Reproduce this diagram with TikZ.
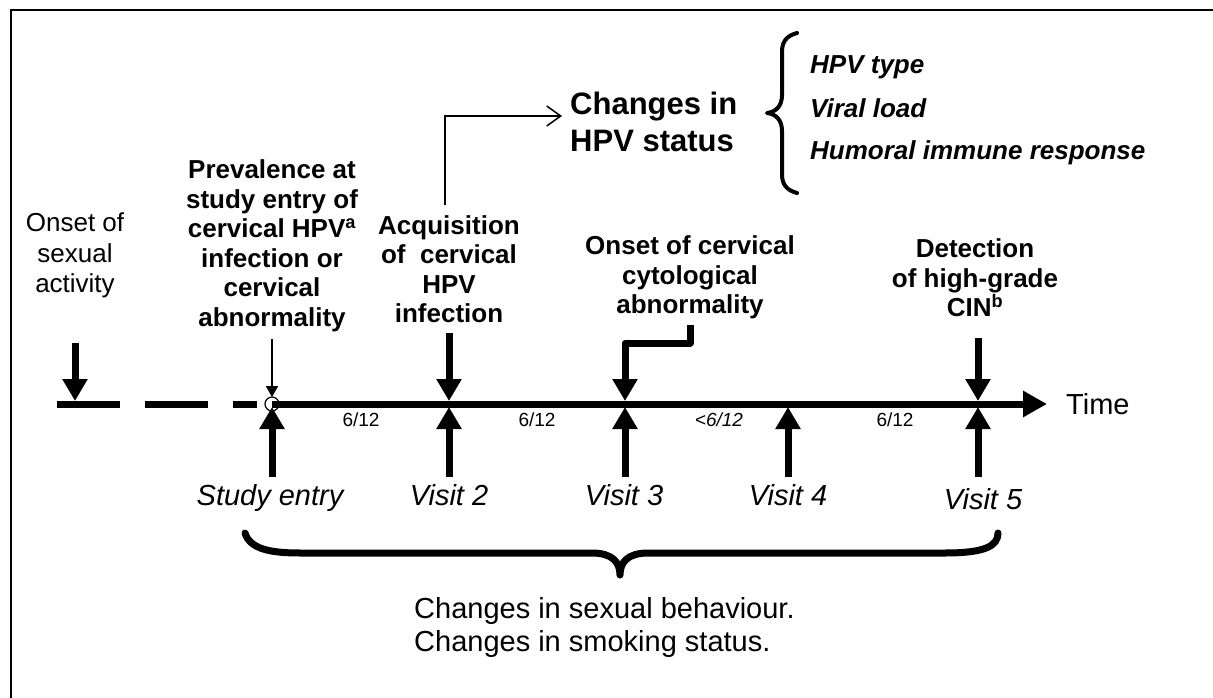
\documentclass[tikz,border=0pt]{standalone}
\usepackage{fontspec}
\setmainfont{Liberation Sans}
\usetikzlibrary{arrows.meta}
\begin{document}
\begin{tikzpicture}[x=1pt,y=-1pt,
  boldlbl/.style={font=\fontsize{26}{29.5}\selectfont\bfseries, align=center, inner sep=0pt},
  reglbl/.style={font=\fontsize{26}{30.5}\selectfont, align=center, inner sep=0pt},
  visitlbl/.style={font=\fontsize{29}{33}\selectfont\itshape, inner sep=0pt, anchor=base},
  durlbl/.style={font=\fontsize{19}{22}\selectfont, inner sep=0pt},
  itemlbl/.style={font=\fontsize{26}{30}\selectfont\bfseries\itshape, inner sep=0pt, anchor=west},
  headlbl/.style={font=\fontsize{31}{37}\selectfont\bfseries, align=left, inner sep=0pt, anchor=west},
  botlbl/.style={font=\fontsize{29}{33}\selectfont, align=left, inner sep=0pt, anchor=west},
  timelbl/.style={font=\fontsize{29}{33}\selectfont, inner sep=0pt, anchor=west},
  bigarrow/.style={line width=7pt, -{Triangle[width=24pt,length=22pt]}},
  smallarrow/.style={line width=2pt, -{Triangle[width=12pt,length=11pt]}},
  barbarrow/.style={line width=1.5pt, -{Straight Barb[width=20pt,length=14pt]}},
  bracepath/.style={line width=7pt, line cap=round, line join=round},
  smallbrace/.style={line width=4pt, line cap=round, line join=round}]
\useasboundingbox (0,0) rectangle (1213,698);
\fill[white] (0,0) rectangle (1213,698);
% frame
\draw[line width=2pt] (11,698) -- (11,10) -- (1213,10);

% timeline points
\coordinate (tdash) at (57,404);
\coordinate (tdashend) at (257,404);
\coordinate (t1) at (272,404);
\coordinate (tend) at (1047,404);
\node[circle, draw, line width=1.2pt, minimum size=14pt, inner sep=0pt] (circ) at (272,404) {};

% dashed part and solid timeline
\draw[line width=7pt, dash pattern=on 63pt off 25pt] (tdash) -- (tdashend);
\draw[line width=7pt, -{Triangle[width=25pt,length=24pt]}] (circ.center) -- (tend);
\node[timelbl] (time) at (1066,404) {Time};

% labels above
\node[reglbl] (onsetsex) at (75,255.5) {Onset of\\sexual\\activity};
\node[boldlbl] (prev) at (272,246) {Prevalence at\\study entry of\\cervical HPV\textsuperscript{a}\\infection or\\cervical\\abnormality};
\node[boldlbl] (acq) at (449,269) {Acquisition\\of~ cervical\\HPV\\infection};
\node[boldlbl] (onsetcyto) at (690,277.5) {Onset of cervical\\cytological\\abnormality};
\node[boldlbl] (detect) at (975,278) {Detection\\of high-grade\\CIN\textsuperscript{b}};

% down arrows
\coordinate (sxa) at (75,343);   \coordinate (sxb) at (75,401);
\coordinate (pva) at (272,339);  \coordinate (pvb) at (272,397);
\coordinate (aqa) at (449,333);  \coordinate (aqb) at (449,401);
\coordinate (cya) at (690,325);  \coordinate (cyk) at (690,343); \coordinate (cym) at (625,343); \coordinate (cyb) at (625,401);
\coordinate (dta) at (978,338);  \coordinate (dtb) at (978,401);
\draw[bigarrow] (sxa) -- (sxb);
\draw[smallarrow] (pva) -- (pvb);
\draw[bigarrow] (aqa) -- (aqb);
\draw[bigarrow, line join=round] (cya) -- (cyk) -- (cym) -- (cyb);
\draw[bigarrow] (dta) -- (dtb);

% up arrows
\foreach \n/\x in {u1/272,u2/449,u3/625,u4/788,u5/978}{
  \coordinate (\n a) at (\x,477);
  \coordinate (\n b) at (\x,407);
  \draw[bigarrow] (\n a) -- (\n b);
}

% durations
\node[durlbl] (d1) at (361,420) {6/12};
\node[durlbl] (d2) at (537,420) {6/12};
\node[durlbl] (d3) at (719,420) {\itshape <6/12};
\node[durlbl] (d4) at (895,420) {6/12};

% visit labels
\node[visitlbl] (ve) at (270,505) {Study entry};
\node[visitlbl] (v2) at (449,505) {Visit 2};
\node[visitlbl] (v3) at (624,505) {Visit 3};
\node[visitlbl] (v4) at (788,505) {Visit 4};
\node[visitlbl] (v5) at (983,509) {Visit 5};

% bottom brace
\draw[bracepath] (245,533) .. controls (250,549) and (270,553) .. (300,553)
  -- (592,553) .. controls (612,553) and (620,562) .. (620,575)
  .. controls (620,562) and (628,553) .. (648,553)
  -- (945,553) .. controls (985,553) and (998,546) .. (998,533);
\node[botlbl] (beh) at (414,627) {Changes in sexual behaviour.\\Changes in smoking status.};

% HPV status block
\node[headlbl] (hpv) at (570,121.5) {Changes in\\HPV status};
\coordinate (acqtop) at (445,205);
\coordinate (hpvin) at (562,116);
\draw[barbarrow] (acqtop) |- (hpvin);

% small curly brace
\draw[smallbrace] (797,33) .. controls (786,36) and (782,42) .. (782,52)
  -- (782,95) .. controls (782,106) and (776,112) .. (767,113)
  .. controls (776,114) and (782,120) .. (782,131)
  -- (782,174) .. controls (782,184) and (786,190) .. (797,193);
\node[itemlbl] (it1) at (810,67) {HPV type};
\node[itemlbl] (it2) at (810,108) {Viral load};
\node[itemlbl] (it3) at (810,153) {Humoral immune response};
\end{tikzpicture}
\end{document}
